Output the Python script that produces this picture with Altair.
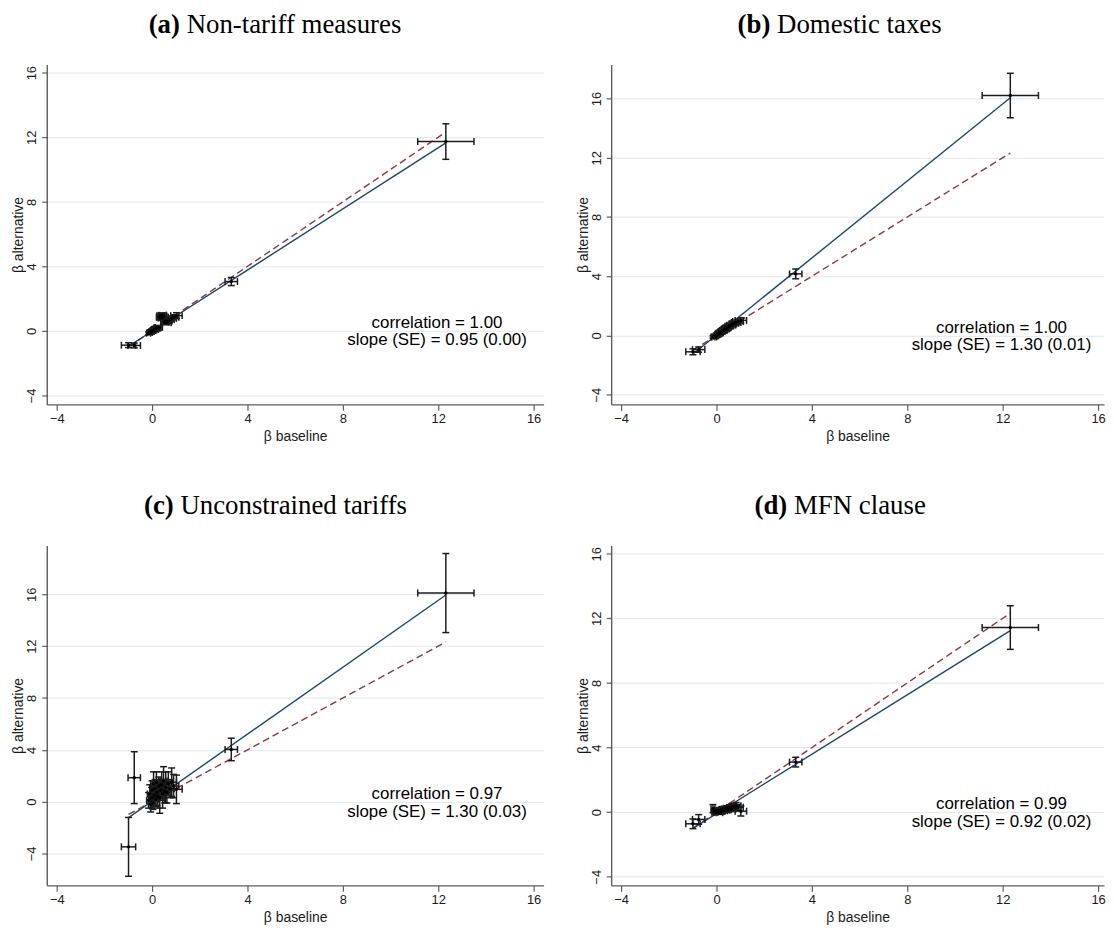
import altair as alt
import pandas as pd

# ---------------- data ----------------
panel_tags = ["(a)", "(b)", "(c)", "(d)"]
panel_names = ["Non-tariff measures", "Domestic taxes", "Unconstrained tariffs", "MFN clause"]

# baseline estimates (x) and half-width of their confidence bars
base_x = [12.32, 3.32, -0.99, -0.75, -0.15, -0.10, -0.06, -0.02, 0.00, 0.03,
          0.06, 0.09, 0.12, 0.15, 0.18, 0.21, 0.24, 0.28, 0.32, 0.36,
          0.40, 0.44, 0.48, 0.52, 0.57, 0.62, 0.68, 0.75, 0.82, 0.90, 1.02]
base_xe = [1.18, 0.26, 0.30, 0.26, 0.08, 0.10, 0.08, 0.10, 0.08, 0.10,
           0.12, 0.10, 0.14, 0.12, 0.10, 0.14, 0.12, 0.15, 0.14, 0.16,
           0.15, 0.16, 0.14, 0.16, 0.15, 0.18, 0.16, 0.18, 0.20, 0.22, 0.24]

# alternative estimates (y) per panel and half-width of their bars
a_y = [11.73, 3.06, -0.88, -0.90, -0.14, -0.10, -0.06, -0.04, 0.00, 0.02,
       0.05, 0.08, 0.10, 0.12, 0.15, 0.18, 0.20, 0.22, 0.85, 0.95,
       0.80, 0.98, 0.90, 0.55, 0.60, 0.50, 0.62, 0.70, 0.78, 0.85, 0.95]
a_ye = [1.10, 0.25, 0.15, 0.15, 0.08, 0.08, 0.10, 0.08, 0.08, 0.10,
        0.08, 0.10, 0.10, 0.12, 0.10, 0.12, 0.10, 0.12, 0.15, 0.14,
        0.15, 0.14, 0.15, 0.12, 0.14, 0.12, 0.14, 0.14, 0.15, 0.16, 0.18]
b_y = [16.20, 4.16, -1.10, -0.95, -0.10, -0.10, -0.05, -0.02, 0.02, 0.05,
       0.08, 0.12, 0.15, 0.20, 0.22, 0.27, 0.30, 0.34, 0.38, 0.44,
       0.48, 0.52, 0.57, 0.62, 0.66, 0.70, 0.78, 0.82, 0.88, 0.95, 1.02]
b_ye = [1.50, 0.33, 0.20, 0.18, 0.08, 0.08, 0.10, 0.08, 0.08, 0.10,
        0.08, 0.10, 0.10, 0.12, 0.10, 0.12, 0.10, 0.12, 0.12, 0.14,
        0.12, 0.14, 0.12, 0.12, 0.14, 0.12, 0.14, 0.14, 0.15, 0.16, 0.18]
c_y = [16.10, 4.03, -3.49, 1.85, 0.10, 0.60, -0.20, 0.30, 0.90, -0.10,
       1.40, 0.50, 1.00, 0.20, 1.50, 0.70, 0.40, 1.20, 0.30, 0.90,
       1.30, 0.60, 1.60, 0.80, 1.10, 0.70, 1.40, 1.00, 1.50, 1.20, 0.95]
c_ye = [3.05, 0.87, 2.27, 2.00, 0.60, 0.70, 0.60, 0.80, 0.70, 0.50,
        0.90, 0.80, 0.70, 0.60, 0.80, 1.00, 0.90, 0.70, 1.20, 0.80,
        1.00, 1.10, 1.10, 0.90, 1.20, 0.80, 0.90, 0.70, 1.10, 0.90, 1.10]
d_y = [11.43, 3.10, -0.72, -0.45, 0.22, 0.05, -0.02, 0.10, 0.00, 0.08,
       0.02, 0.12, -0.03, 0.06, 0.15, 0.04, 0.10, 0.18, 0.08, 0.20,
       0.12, 0.25, 0.15, 0.22, 0.30, 0.18, 0.35, 0.28, 0.40, 0.30, 0.06]
d_ye = [1.35, 0.30, 0.30, 0.30, 0.25, 0.10, 0.10, 0.12, 0.10, 0.12,
        0.10, 0.12, 0.10, 0.12, 0.14, 0.12, 0.12, 0.14, 0.12, 0.14,
        0.12, 0.15, 0.14, 0.15, 0.16, 0.14, 0.18, 0.16, 0.20, 0.18, 0.30]

panel_y = [a_y, b_y, c_y, d_y]
panel_ye = [a_ye, b_ye, c_ye, d_ye]

# fitted line (solid) and 45-degree line (dashed) end points
line_x = [-0.99, 12.32]
fit_y = [[-0.95, 11.65], [-1.25, 16.05], [-1.23, 15.95], [-1.00, 11.24]]
diag_y = [-0.99, 12.32]

corr_text = ["correlation = 1.00", "correlation = 1.00", "correlation = 0.97", "correlation = 0.99"]
slope_text = ["slope (SE) = 0.95 (0.00)", "slope (SE) = 1.30 (0.01)",
              "slope (SE) = 1.30 (0.03)", "slope (SE) = 0.92 (0.02)"]
ann_x = 11.95
ann_y = [[0.46, -0.59], [0.52, -0.62], [0.60, -0.78], [0.52, -0.59]]

x_ticks = [-4, 0, 4, 8, 12, 16]
y_ticks = [-4, 0, 4, 8, 12, 16]

# ---------------- layout / style ----------------
x_domains = [[-4.42, 16.42], [-4.42, 16.25], [-4.42, 16.42], [-4.42, 16.25]]
y_domains = [[-4.55, 16.5], [-4.65, 18.29], [-6.46, 19.77], [-4.53, 16.51]]
widths = [500, 496, 500, 496]
HEIGHT = 342
TITLE_Y = -32
# title pieces: right edge of bold tag, left edge of name (pixels from plot left)
tag_right = [134.0, 160.2, 127.8, 177.2]
name_left = [140.8, 167.0, 134.5, 184.0]

AX = "#5c5c5c"
TXT = "#1a1a1a"
GRID = "#e3ecef"
EB = "#1c1c1c"
BLUE = "#1a476f"
RED = "#90353b"
SANS = "Liberation Sans"
SERIF = "Liberation Serif"


def make_panel(i):
    xs = alt.Scale(domain=x_domains[i], nice=False, zero=False)
    ys = alt.Scale(domain=y_domains[i], nice=False, zero=False)
    xaxis = alt.Axis(values=x_ticks, title="β baseline", grid=False, labelFlush=False,
                     labelOverlap=False, domainColor=AX, domainWidth=1.4, tickColor=AX,
                     tickWidth=1.2, tickSize=6, labelFont=SANS, labelFontSize=13,
                     labelColor=TXT, labelPadding=2, titleFont=SANS, titleFontSize=14,
                     titleFontWeight="normal", titleColor=TXT, titlePadding=4)
    yaxis = alt.Axis(values=y_ticks, title="β alternative", grid=True, gridColor=GRID,
                     gridWidth=1.2, labelFlush=False, labelOverlap=False, labelAngle=270,
                     labelAlign="center", labelBaseline="bottom", labelPadding=3,
                     domainColor=AX, domainWidth=1.4, tickColor=AX, tickWidth=1.2,
                     tickSize=5, labelFont=SANS, labelFontSize=13, labelColor=TXT,
                     titleFont=SANS, titleFontSize=14, titleFontWeight="normal",
                     titleColor=TXT, titlePadding=0)

    bx = base_x
    bxe = base_xe
    y = panel_y[i]
    ye = panel_ye[i]
    pts = pd.DataFrame({
        "x": bx, "y": y,
        "x_lo": [a - b for a, b in zip(bx, bxe)],
        "x_hi": [a + b for a, b in zip(bx, bxe)],
        "y_lo": [a - b for a, b in zip(y, ye)],
        "y_hi": [a + b for a, b in zip(y, ye)],
    })
    vcaps = pd.DataFrame({"x": list(pts["x_lo"]) + list(pts["x_hi"]), "y": list(y) + list(y)})
    hcaps = pd.DataFrame({"x": list(bx) + list(bx), "y": list(pts["y_lo"]) + list(pts["y_hi"])})
    fit_df = pd.DataFrame({"x": line_x, "y": fit_y[i]})
    diag_df = pd.DataFrame({"x": line_x, "y": diag_y})
    ann_df = pd.DataFrame({"x": [ann_x, ann_x], "y": ann_y[i], "t": [corr_text[i], slope_text[i]]})

    def X(f):
        return alt.X(f, scale=xs, axis=xaxis, title="β baseline")

    def Y(f):
        return alt.Y(f, scale=ys, axis=yaxis, title="β alternative")

    diag = alt.Chart(diag_df).mark_line(color=RED, strokeWidth=1.4, strokeDash=[7, 4]).encode(
        x=X("x:Q"), y=Y("y:Q"))
    fit = alt.Chart(fit_df).mark_line(color=BLUE, strokeWidth=1.4).encode(x=X("x:Q"), y=Y("y:Q"))
    hbar = alt.Chart(pts).mark_rule(color=EB, strokeWidth=1.5).encode(
        x=X("x_lo:Q"), x2="x_hi:Q", y=Y("y:Q"))
    vbar = alt.Chart(pts).mark_rule(color=EB, strokeWidth=1.5).encode(
        x=X("x:Q"), y=Y("y_lo:Q"), y2="y_hi:Q")
    vcap = alt.Chart(vcaps).mark_tick(color=EB, orient="vertical", size=7, thickness=1.5,
                                      opacity=1).encode(x=X("x:Q"), y=Y("y:Q"))
    hcap = alt.Chart(hcaps).mark_tick(color=EB, orient="horizontal", size=7, thickness=1.5,
                                      opacity=1).encode(x=X("x:Q"), y=Y("y:Q"))
    dots = alt.Chart(pts).mark_circle(color="black", size=12, opacity=1).encode(
        x=X("x:Q"), y=Y("y:Q"))
    ann = alt.Chart(ann_df).mark_text(font=SANS, fontSize=17, color="black", align="center",
                                      baseline="middle").encode(x=X("x:Q"), y=Y("y:Q"), text="t:N")
    tag = alt.Chart(pd.DataFrame({"t": [panel_tags[i]]})).mark_text(
        font=SERIF, fontSize=27, fontWeight="bold", color="black", align="right",
        baseline="alphabetic").encode(x=alt.value(tag_right[i]), y=alt.value(TITLE_Y), text="t:N")
    name = alt.Chart(pd.DataFrame({"t": [panel_names[i]]})).mark_text(
        font=SERIF, fontSize=27, color="black", align="left",
        baseline="alphabetic").encode(x=alt.value(name_left[i]), y=alt.value(TITLE_Y), text="t:N")

    return alt.layer(diag, fit, hbar, vbar, vcap, hcap, dots, ann, tag, name).properties(
        width=widths[i], height=HEIGHT)


panels = [make_panel(i) for i in range(4)]
chart = alt.concat(*panels, columns=2, spacing={"row": 142, "column": 68},
                   bounds="flush").configure_view(stroke=None).properties(
    padding={"left": 4, "top": 0, "right": 0, "bottom": 0}, background="white")

chart.save("out.html", embed_options={"renderer": "svg", "actions": False})
